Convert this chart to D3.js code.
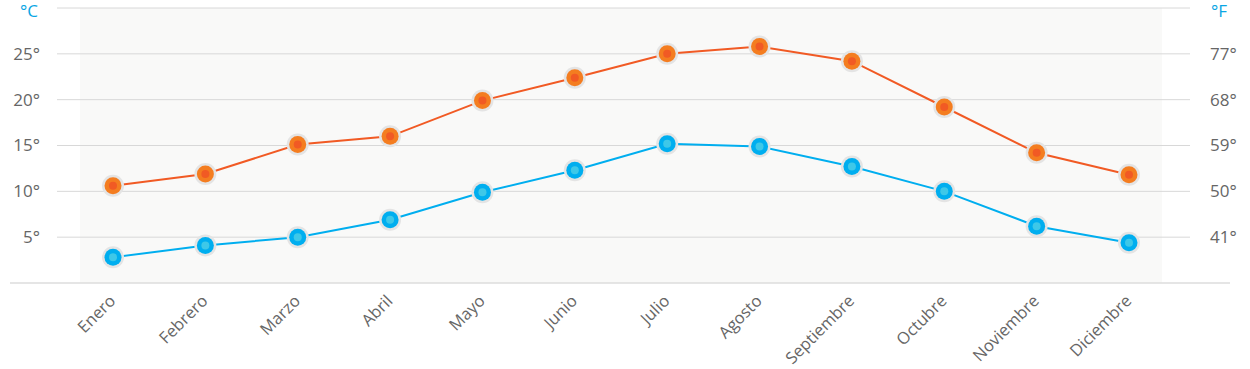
<!DOCTYPE html>
<html>
<head>
<meta charset="utf-8">
<script src="https://cdnjs.cloudflare.com/ajax/libs/d3/7.8.5/d3.min.js"></script>
<style>
  body { margin: 0; background: #fff; }
  svg { display: block; font-family: "Open Sans", sans-serif; }
</style>
</head>
<body>
<svg width="1250" height="369"></svg>
<script>
var months = ["Enero", "Febrero", "Marzo", "Abril", "Mayo", "Junio", "Julio",
              "Agosto", "Septiembre", "Octubre", "Noviembre", "Diciembre"];
var maxTemp = [10.6, 11.9, 15.1, 16.0, 19.9, 22.4, 25.0, 25.8, 24.2, 19.2, 14.2, 11.8];
var minTemp = [2.8, 4.1, 5.0, 6.9, 9.9, 12.3, 15.2, 14.9, 12.7, 10.0, 6.2, 4.4];
var celsiusTicks = [5, 10, 15, 20, 25];
var fahrenheitTicks = [41, 50, 59, 68, 77];
var gridTicks = [5, 10, 15, 20, 25, 30];

var svg = d3.select("svg"),
    width = +svg.attr("width"),
    height = +svg.attr("height");

var textColor = "#666",
    blue = "#00aeef",
    orange = "#f47d20",
    orangeLine = "#f15a24";

var x = d3.scalePoint()
    .domain(months)
    .range([113, 1129]);

var y = d3.scaleLinear()
    .domain([0, 30])
    .range([283, 8]);

// fahrenheit scale lined up with the celsius one
var yF = d3.scaleLinear()
    .domain([32, 86])
    .range(y.range());

// plot background
svg.append("rect")
    .attr("x", 80)
    .attr("y", y(30))
    .attr("width", 1162 - 80)
    .attr("height", y(0) - y(30))
    .attr("fill", "#f9f9f8");

// gridlines
svg.append("g")
  .selectAll("line")
    .data(gridTicks)
  .enter().append("line")
    .attr("x1", 57)
    .attr("x2", 1190)
    .attr("y1", function(d) { return y(d); })
    .attr("y2", function(d) { return y(d); })
    .attr("stroke", "#d8d8d8")
    .attr("stroke-width", 1);

svg.append("line")
    .attr("x1", 10)
    .attr("x2", 1230)
    .attr("y1", y(0))
    .attr("y2", y(0))
    .attr("stroke", "#dcdcdc")
    .attr("stroke-width", 1.5);

// left axis
var gl = svg.append("g")
    .attr("transform", "translate(40,0)")
    .call(d3.axisLeft(y)
      .tickValues(celsiusTicks)
      .tickSize(0)
      .tickPadding(0)
      .tickFormat(function(d) { return d + "°"; }));
gl.select(".domain").remove();
gl.attr("font-family", null).attr("font-size", null);
gl.selectAll("text")
    .attr("fill", textColor)
    .style("font-size", "17px");

// right axis
var gr = svg.append("g")
    .attr("transform", "translate(1210,0)")
    .call(d3.axisRight(yF)
      .tickValues(fahrenheitTicks)
      .tickSize(0)
      .tickPadding(0)
      .tickFormat(function(d) { return d + "°"; }));
gr.select(".domain").remove();
gr.attr("font-family", null).attr("font-size", null);
gr.selectAll("text")
    .attr("fill", textColor)
    .style("font-size", "17px");

// unit labels
svg.append("text")
    .attr("x", 38)
    .attr("y", 17)
    .attr("text-anchor", "end")
    .attr("fill", "#0aa6e4")
    .style("font-size", "17px")
    .text("°C");

svg.append("text")
    .attr("x", 1211)
    .attr("y", 17)
    .attr("fill", "#0aa6e4")
    .style("font-size", "17px")
    .text("°F");

// month axis
var gx = svg.append("g")
    .attr("transform", "translate(0," + y(0) + ")")
    .call(d3.axisBottom(x).tickSize(0));
gx.select(".domain").remove();
gx.attr("font-family", null).attr("font-size", null);
gx.selectAll("text")
    .attr("x", 0)
    .attr("y", 0)
    .attr("dy", 0)
    .attr("transform", "translate(3,19) rotate(-45)")
    .attr("text-anchor", "end")
    .attr("fill", textColor)
    .style("font-size", "16.5px");

var line = d3.line()
    .x(function(d, i) { return x(months[i]); })
    .y(function(d) { return y(d); });

var series = [
  { values: maxTemp, stroke: orangeLine, fill: orange, inner: orangeLine },
  { values: minTemp, stroke: blue, fill: blue, inner: "#3ec8e8" }
];

series.forEach(function(s) {
    svg.append("path")
        .datum(s.values)
        .attr("fill", "none")
        .attr("stroke", s.stroke)
        .attr("stroke-width", 2)
        .attr("d", line);

    var pts = svg.append("g")
      .selectAll("g")
        .data(s.values)
      .enter().append("g")
        .attr("transform", function(d, i) {
          return "translate(" + x(months[i]) + "," + y(d) + ")";
        });

    pts.append("circle").attr("r", 11).attr("fill", "#e4e4e4");
    pts.append("circle").attr("r", 8.5).attr("fill", s.fill);
    pts.append("circle").attr("r", 4).attr("fill", s.inner);
});
</script>
</body>
</html>
